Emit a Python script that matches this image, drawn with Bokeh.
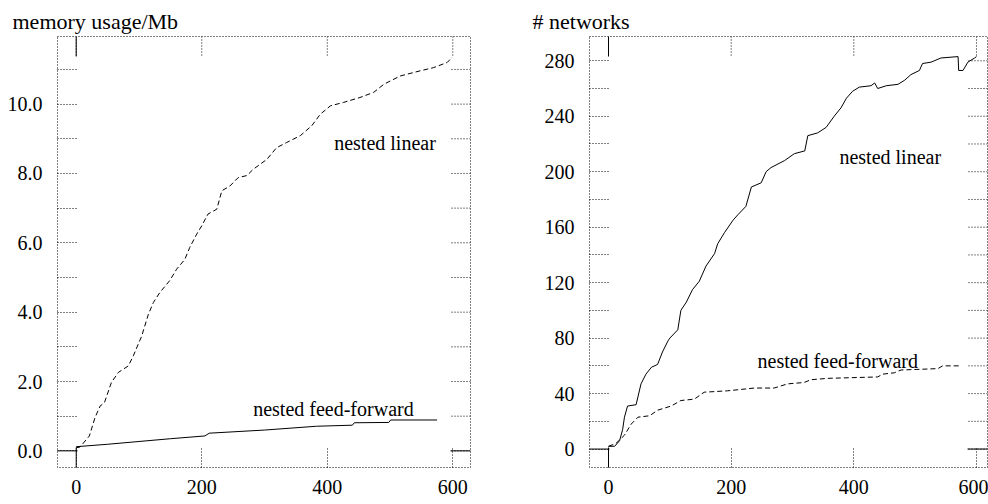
import math
from bokeh.plotting import figure
from bokeh.models import Range1d, FixedTicker, NumeralTickFormatter, Label
from bokeh.layouts import row
from bokeh.embed import file_html
from bokeh.resources import INLINE

FONT = "Liberation Serif"

# ---------------- data ----------------
# left panel: memory usage (Mb) vs x
mem_linear_x = [0, 6, 21, 30, 38, 45, 56, 67, 83, 91, 101, 104, 115, 123, 133, 149, 160, 173, 181,
                192, 200, 210, 224, 232, 245, 258, 272, 282, 304, 319, 335, 357, 375, 389, 405, 426,
                452, 474, 490, 516, 548, 569, 591, 599]
mem_linear_y = [0.09, 0.11, 0.43, 0.96, 1.29, 1.39, 1.97, 2.26, 2.45, 2.74, 3.17, 3.29, 3.94, 4.28,
                4.56, 4.91, 5.24, 5.52, 5.87, 6.25, 6.49, 6.83, 6.97, 7.50, 7.64, 7.88, 7.94, 8.12,
                8.41, 8.74, 8.89, 9.09, 9.37, 9.71, 9.95, 10.05, 10.19, 10.34, 10.57, 10.81, 10.96,
                11.05, 11.20, 11.35]
mem_ff_x = [0, 50, 100, 150, 205, 212, 300, 383, 440, 443, 498, 501, 575]
mem_ff_y = [0.12, 0.19, 0.27, 0.35, 0.43, 0.51, 0.60, 0.71, 0.74, 0.81, 0.82, 0.89, 0.89]

# right panel: number of networks vs x
net_linear_x = [0, 10, 18, 23, 26, 31, 45, 53, 61, 70, 80, 88, 97, 100, 113, 118, 127, 137, 148, 159,
                173, 178, 189, 203, 211, 224, 233, 249, 257, 265, 287, 303, 320, 325, 341, 355, 368,
                379, 388, 398, 409, 428, 434, 439, 453, 472, 483, 493, 507, 512, 526, 542, 570, 571,
                578, 586, 597, 600]
net_linear_y = [2, 2, 6, 14, 23, 31, 32, 47, 54, 59, 61, 70, 78, 80, 86, 100, 106, 115, 121, 132,
                141, 148, 156, 165, 169, 175, 189, 192, 200, 203, 208, 213, 215, 226, 228, 232, 240,
                246, 253, 258, 261, 262, 264, 260, 262, 263, 266, 270, 273, 278, 279, 282, 283, 273,
                273, 279, 282, 283]
net_ff_x = [0, 12, 26, 37, 48, 67, 80, 102, 118, 140, 156, 194, 238, 270, 292, 319, 330, 358, 439,
            447, 466, 477, 537, 545, 575]
net_ff_y = [2, 4, 10, 18, 23, 24, 28, 31, 35, 36, 41, 42, 44, 44, 47, 48, 50, 51, 52, 54, 55, 57,
            58, 60, 60]

x_ticks = [0, 200, 400, 600]
mem_major = [0, 2, 4, 6, 8, 10]
mem_minor = [1, 3, 5, 7, 9, 11]
net_major = [0, 40, 80, 120, 160, 200, 240, 280]
net_minor = [20, 60, 100, 140, 180, 220, 260]

TICK = 20
DOT = "1 2"


def style_axis(ax):
    ax.axis_line_color = None
    ax.major_tick_in = TICK
    ax.major_tick_out = 0
    ax.minor_tick_in = TICK
    ax.minor_tick_out = 0
    ax.major_tick_line_dash = DOT
    ax.minor_tick_line_dash = DOT
    ax.major_tick_line_color = "black"
    ax.minor_tick_line_color = "black"
    ax.major_tick_line_width = 1
    ax.minor_tick_line_width = 1
    ax.major_label_text_font = FONT
    ax.major_label_text_font_size = "20px"
    ax.major_label_text_color = "black"


def make_panel(title, xr, yr, yticks, yminor, yfmt, b_left, b_right, title_off, lines, labels):
    p = figure(width=494, height=504, x_range=Range1d(*xr), y_range=Range1d(*yr),
               output_backend="svg", toolbar_location=None, title=title,
               min_border_left=b_left, min_border_right=b_right,
               min_border_top=36, min_border_bottom=37)
    p.xgrid.visible = False
    p.ygrid.visible = False
    p.outline_line_color = "black"
    p.outline_line_dash = DOT
    p.outline_line_width = 1
    p.background_fill_color = "white"
    p.border_fill_color = "white"

    p.xaxis.ticker = FixedTicker(ticks=x_ticks, minor_ticks=[])
    p.yaxis.ticker = FixedTicker(ticks=yticks, minor_ticks=yminor)
    p.yaxis.formatter = NumeralTickFormatter(format=yfmt)
    p.xaxis.major_label_standoff = 12
    p.yaxis.major_label_standoff = 15
    style_axis(p.xaxis[0])
    style_axis(p.yaxis[0])

    # mirrored inward ticks on the right and top edges
    all_y = yticks + yminor
    p.ray(x=[xr[1]] * len(all_y), y=all_y, length=TICK, length_units="screen", angle=math.pi,
          line_color="black", line_width=1, line_dash=DOT)
    p.ray(x=x_ticks, y=[yr[1]] * len(x_ticks), length=TICK, length_units="screen",
          angle=-math.pi / 2, line_color="black", line_width=1, line_dash=DOT)

    # solid zero ticks
    p.ray(x=[0, 0, xr[0], xr[1]], y=[yr[0], yr[1], 0, 0], length=TICK, length_units="screen",
          angle=[math.pi / 2, -math.pi / 2, 0, math.pi], line_color="black", line_width=1)

    for xs, ys, dash in lines:
        p.line(xs, ys, line_color="black", line_width=1, line_dash=dash)

    for (lx, ly, txt) in labels:
        p.add_layout(Label(x=lx, y=ly, text=txt, text_font=FONT, text_font_size="20px",
                           text_color="black", text_align="left", text_baseline="alphabetic"))

    p.title.align = "left"
    p.title.offset = title_off
    p.title.text_font = FONT
    p.title.text_font_size = "22px"
    p.title.text_font_style = "normal"
    p.title.text_color = "black"
    p.title.standoff = 6
    return p


left = make_panel("memory usage/Mb", (-29.8, 628.2), (-0.48, 11.95), mem_major, mem_minor, "0.0",
                  57, 24, -45,
                  [(mem_linear_x, mem_linear_y, "5 3"), (mem_ff_x, mem_ff_y, "solid")],
                  [(411, 8.89, "nested linear"), (282, 1.22, "nested feed-forward")])

right = make_panel("# networks", (-31.0, 618.0), (-13.3, 297.5), net_major, net_minor, "0",
                   95, 1, -57,
                   [(net_linear_x, net_linear_y, "solid"), (net_ff_x, net_ff_y, "5 3")],
                   [(376.6, 210.3, "nested linear"), (243, 63.7, "nested feed-forward")])

layout = row(left, right)
open("out.html", "w").write(file_html(layout, INLINE))
